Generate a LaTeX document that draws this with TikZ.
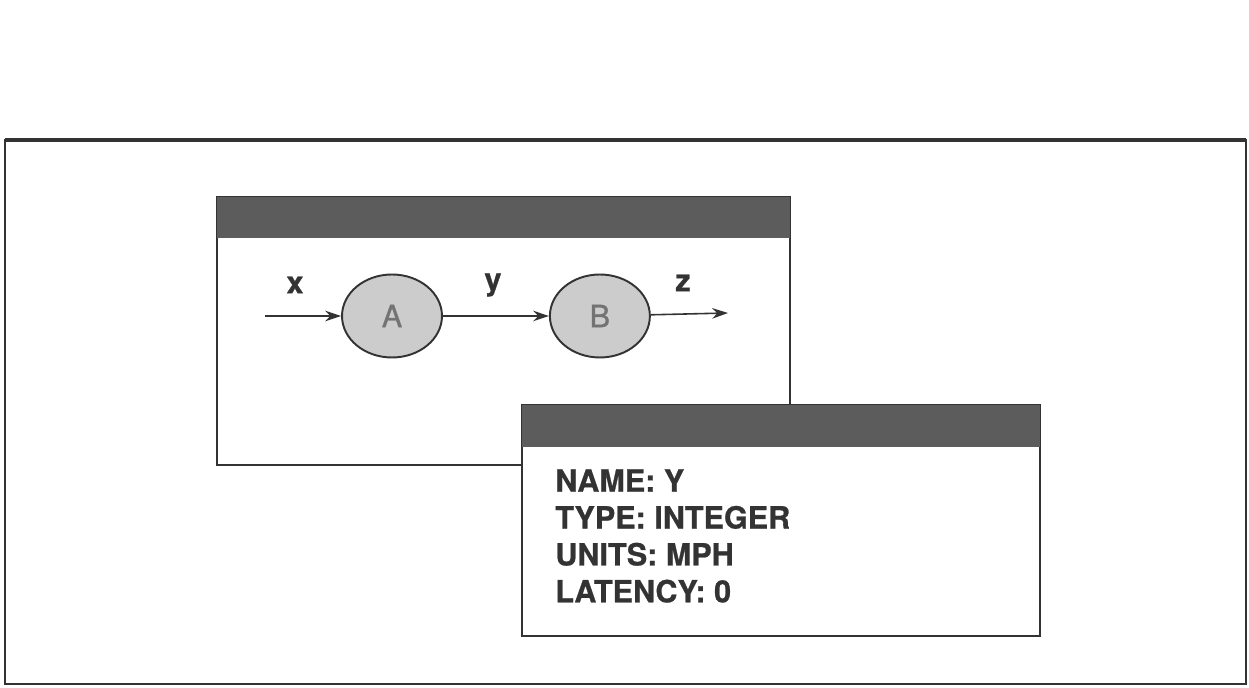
\documentclass[tikz,border=0pt]{standalone}
\usepackage{fontspec}
\setmainfont[FakeBold=0.8]{TeX Gyre Heros}
\usetikzlibrary{positioning,shapes.geometric,arrows.meta}
\definecolor{barcol}{rgb}{0.36,0.36,0.36}
\definecolor{linecol}{rgb}{0.2,0.2,0.2}
\definecolor{blobcol}{rgb}{0.8,0.8,0.8}
\tikzset{
  frame/.style={draw=linecol, line width=1.1pt},
  titlebar/.style={fill=barcol},
  blob/.style={ellipse, draw=linecol, line width=1.1pt, fill=blobcol,
    minimum width=2cm, minimum height=1.66cm, inner sep=0pt,
    font=\fontsize{17.4pt}{20pt}\selectfont, text=black!55},
  flow/.style={draw=linecol, line width=0.9pt, -{Stealth[length=9pt,width=6pt]}},
  lbl/.style={font=\fontsize{17.4pt}{20pt}\selectfont\bfseries, text=linecol, inner sep=0pt}
}
\begin{document}
\begin{tikzpicture}[x=0.02cm, y=-0.02cm]
    \useasboundingbox (0,0) rectangle (1249,688);
    \fill[white] (0,0) rectangle (1249,688);

    % Outer frame
    \draw[frame] (5,140) rectangle (1246,684);
    \draw[draw=linecol, line width=1.8pt] (5,140) -- (1246,140);

    % Data flow window
    \draw[frame, fill=white] (217,197) rectangle (790,465);
    \fill[titlebar] (217,197) rectangle (790,238);

    % Processes and flows
    \node[blob] (A) at (392,316) {A};
    \node[blob, right=2.12cm of A] (B) {B};
    \coordinate (xin) at (265,316);
    \coordinate (zout) at (728,313);
    \draw[flow] (xin) -- (A);
    \draw[flow] (A) -- (B);
    \draw[flow] (B) -- (zout);
    \node[lbl] (xlab) at (295,285) {x};
    \node[lbl] (ylab) at (493,285) {y};
    \node[lbl] (zlab) at (683,283) {z};

    % Attribute window
    \draw[frame, fill=white] (522,405) rectangle (1040,636);
    \fill[titlebar] (522,405) rectangle (1040,447);
    \node[lbl, anchor=north west, align=left,
          font=\fontsize{17.4pt}{21pt}\selectfont\bfseries] (attr) at (555,469)
        {NAME: Y\\TYPE: INTEGER\\UNITS: MPH\\LATENCY: 0};
\end{tikzpicture}
\end{document}
